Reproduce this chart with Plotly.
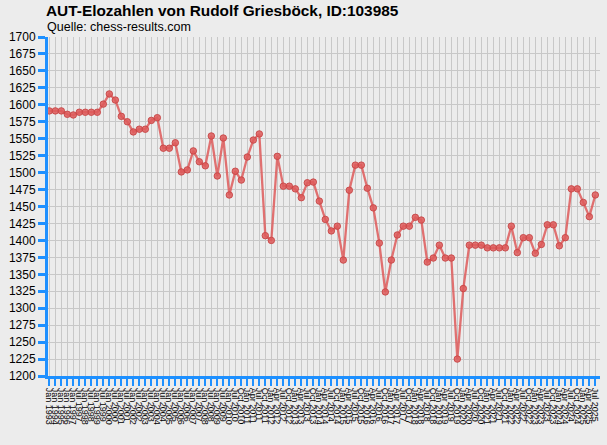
import plotly.graph_objects as go

# rating list dates (x categories)
dates = [
    "Jan 1993", "Jan 1994", "Jan 1995", "Jan 1996",
    "Jan 1997", "Jul 1997", "Jan 1998", "Jul 1998", "Jan 1999", "Jul 1999",
    "Jan 2000", "Jul 2000", "Jan 2001", "Jul 2001", "Jan 2002", "Jul 2002",
    "Jan 2003", "Jul 2003", "Jan 2004", "Jul 2004", "Jan 2005", "Jul 2005",
    "Jan 2006", "Jul 2006", "Jan 2007", "Jul 2007", "Jan 2008", "Jul 2008",
    "Jan 2009", "Jul 2009", "Jan 2010", "Jul 2010",
    "Oct 2010", "Jan 2011", "Apr 2011", "Jul 2011", "Oct 2011",
    "Jan 2012", "Apr 2012", "Jul 2012", "Oct 2012",
    "Jan 2013", "Apr 2013", "Jul 2013", "Oct 2013",
    "Jan 2014", "Apr 2014", "Jul 2014", "Oct 2014",
    "Jan 2015", "Apr 2015", "Jul 2015", "Oct 2015",
    "Jan 2016", "Apr 2016", "Jul 2016", "Oct 2016",
    "Jan 2017", "Apr 2017", "Jul 2017", "Oct 2017",
    "Jan 2018", "Apr 2018", "Jul 2018", "Oct 2018",
    "Jan 2019", "Apr 2019", "Jul 2019", "Oct 2019",
    "Jan 2020", "Apr 2020", "Jul 2020", "Oct 2020",
    "Jan 2021", "Apr 2021", "Jul 2021", "Oct 2021",
    "Jan 2022", "Apr 2022", "Jul 2022", "Oct 2022",
    "Jan 2023", "Apr 2023", "Jul 2023", "Oct 2023",
    "Jan 2024", "Apr 2024", "Jul 2024", "Oct 2024",
    "Jan 2025", "Apr 2025", "Jul 2025",
]

elo = [
    1591, 1591, 1591, 1586, 1585, 1589, 1589, 1589, 1589, 1601,
    1616, 1607, 1583, 1575, 1560, 1564, 1564, 1577, 1581, 1536,
    1536, 1544, 1501, 1504, 1532, 1516, 1510, 1554, 1495, 1551,
    1467, 1502, 1489, 1523, 1548, 1557, 1407, 1400, 1524, 1480,
    1480, 1476, 1463, 1485, 1486, 1458, 1431, 1414, 1421, 1371,
    1474, 1511, 1511, 1477, 1448, 1396, 1324, 1371, 1408, 1421,
    1421, 1434, 1430, 1368, 1374, 1393, 1374, 1374, 1225, 1329,
    1393, 1393, 1393, 1389, 1389, 1389, 1389, 1421, 1382, 1404,
    1404, 1381, 1394, 1423, 1423, 1392, 1404, 1476, 1476, 1456,
    1435, 1467,
]

y_ticks = list(range(1200, 1701, 25))

blue = '#1E90FF'
red = 'rgba(222,90,90,0.85)'

fig = go.Figure()
fig.add_trace(go.Scatter(
    x=dates, y=elo, mode='lines+markers',
    line=dict(color=red, width=2.3),
    marker=dict(color=red, size=6.5, line=dict(color='rgba(200,70,70,0.9)', width=1)),
    showlegend=False))

fig.update_layout(
    width=607, height=445,
    margin=dict(l=48, r=7, t=37, b=69),
    paper_bgcolor='#ECECEC', plot_bgcolor='#ECECEC',
    font=dict(family='Liberation Sans, Arial, sans-serif', color='black'),
    title=dict(text='<b>AUT-Elozahlen von Rudolf Griesböck, ID:103985</b>',
               font=dict(size=15.4, color='black'),
               x=46 / 607, xanchor='left', xref='container',
               y=1 - 11 / 445, yanchor='middle', yref='container'),
    annotations=[dict(text='Quelle: chess-results.com', showarrow=False,
                      xref='paper', yref='paper', x=-3 / 552, y=1 + 10 / 339,
                      xanchor='left', yanchor='middle',
                      font=dict(size=12.5, color='black'))],
)

fig.update_xaxes(
    type='category', tickmode='array', tickvals=dates, ticktext=dates,
    range=[-0.22, len(dates) - 0.22],
    tickangle=90, tickfont=dict(size=9, color='black'),
    showgrid=True, gridcolor='#C8C8C8', gridwidth=1,
    showline=True, linecolor=blue, linewidth=3,
    ticks='outside', tickcolor=blue, ticklen=7, tickwidth=2,
    zeroline=False)

fig.update_yaxes(
    range=[1200, 1700], tickmode='array', tickvals=y_ticks,
    tickfont=dict(size=12, color='black'),
    showgrid=True, gridcolor='#C8C8C8', gridwidth=1,
    showline=True, linecolor=blue, linewidth=3,
    ticks='outside', tickcolor=blue, ticklen=7, tickwidth=3,
    zeroline=False)

# page body has a default margin; drop it so the figure sits at the window corner
fig.write_html("out.html", config={'displayModeBar': False},
               post_script="document.body.style.margin='0';")
